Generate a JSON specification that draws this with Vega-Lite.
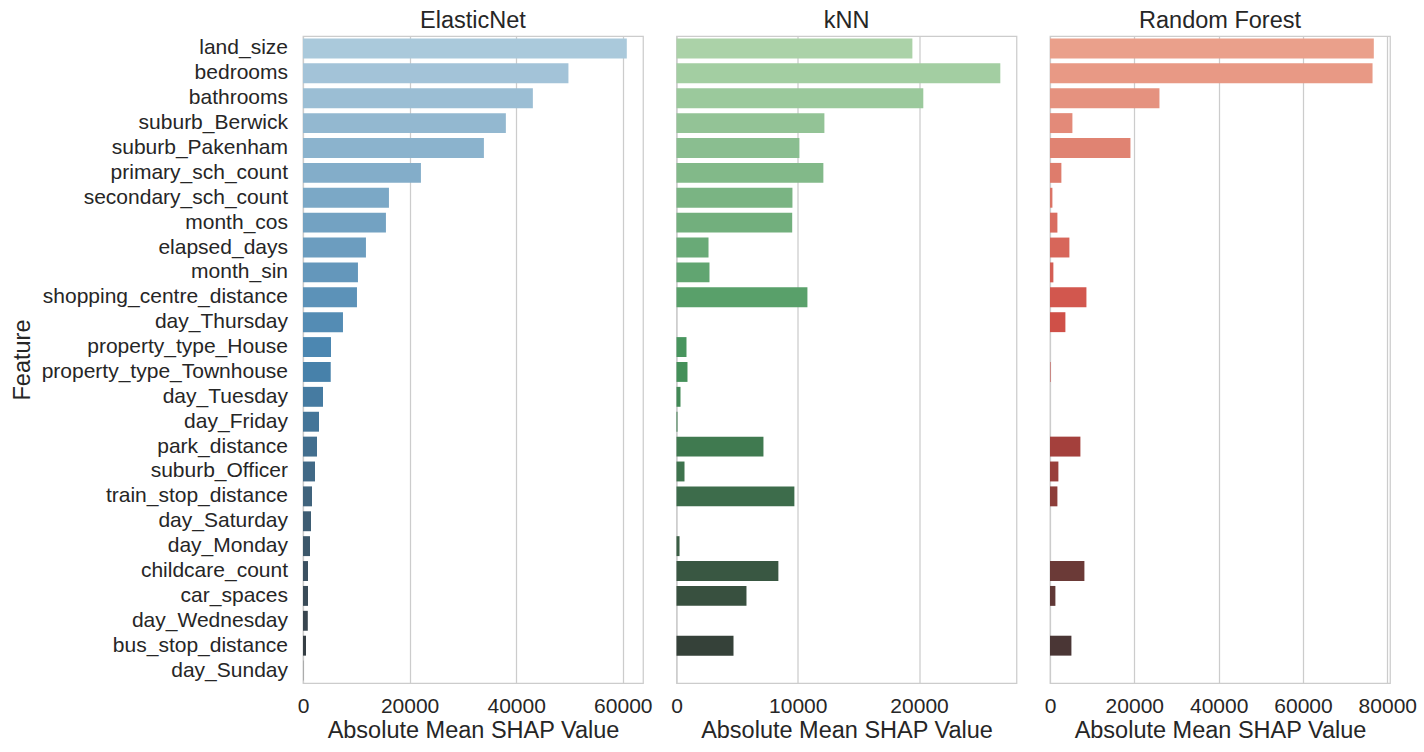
{
  "$schema": "https://vega.github.io/schema/vega-lite/v6.json",
  "padding": {"left": 9, "top": 7, "right": 5, "bottom": 5},
  "background": "white",
  "datasets": {
    "elasticnet": [
      {"feature": "land_size", "shap": 60750},
      {"feature": "bedrooms", "shap": 49800},
      {"feature": "bathrooms", "shap": 43125},
      {"feature": "suburb_Berwick", "shap": 38060},
      {"feature": "suburb_Pakenham", "shap": 33940},
      {"feature": "primary_sch_count", "shap": 22125},
      {"feature": "secondary_sch_count", "shap": 16125},
      {"feature": "month_cos", "shap": 15560},
      {"feature": "elapsed_days", "shap": 11810},
      {"feature": "month_sin", "shap": 10310},
      {"feature": "shopping_centre_distance", "shap": 10125},
      {"feature": "day_Thursday", "shap": 7500},
      {"feature": "property_type_House", "shap": 5250},
      {"feature": "property_type_Townhouse", "shap": 5200},
      {"feature": "day_Tuesday", "shap": 3750},
      {"feature": "day_Friday", "shap": 3000},
      {"feature": "park_distance", "shap": 2625},
      {"feature": "suburb_Officer", "shap": 2250},
      {"feature": "train_stop_distance", "shap": 1690},
      {"feature": "day_Saturday", "shap": 1500},
      {"feature": "day_Monday", "shap": 1310},
      {"feature": "childcare_count", "shap": 940},
      {"feature": "car_spaces", "shap": 940},
      {"feature": "day_Wednesday", "shap": 900},
      {"feature": "bus_stop_distance", "shap": 560},
      {"feature": "day_Sunday", "shap": 40}
    ],
    "knn": [
      {"feature": "land_size", "shap": 19450},
      {"feature": "bedrooms", "shap": 26700},
      {"feature": "bathrooms", "shap": 20350},
      {"feature": "suburb_Berwick", "shap": 12195},
      {"feature": "suburb_Pakenham", "shap": 10135},
      {"feature": "primary_sch_count", "shap": 12110},
      {"feature": "secondary_sch_count", "shap": 9560},
      {"feature": "month_cos", "shap": 9540},
      {"feature": "elapsed_days", "shap": 2640},
      {"feature": "month_sin", "shap": 2720},
      {"feature": "shopping_centre_distance", "shap": 10795},
      {"feature": "day_Thursday", "shap": 0},
      {"feature": "property_type_House", "shap": 824},
      {"feature": "property_type_Townhouse", "shap": 906},
      {"feature": "day_Tuesday", "shap": 330},
      {"feature": "day_Friday", "shap": 80},
      {"feature": "park_distance", "shap": 7170},
      {"feature": "suburb_Officer", "shap": 660},
      {"feature": "train_stop_distance", "shap": 9720},
      {"feature": "day_Saturday", "shap": 0},
      {"feature": "day_Monday", "shap": 250},
      {"feature": "childcare_count", "shap": 8400},
      {"feature": "car_spaces", "shap": 5770},
      {"feature": "day_Wednesday", "shap": 0},
      {"feature": "bus_stop_distance", "shap": 4700},
      {"feature": "day_Sunday", "shap": 0}
    ],
    "rf": [
      {"feature": "land_size", "shap": 76800},
      {"feature": "bedrooms", "shap": 76500},
      {"feature": "bathrooms", "shap": 25960},
      {"feature": "suburb_Berwick", "shap": 5315},
      {"feature": "suburb_Pakenham", "shap": 19080},
      {"feature": "primary_sch_count", "shap": 2700},
      {"feature": "secondary_sch_count", "shap": 570},
      {"feature": "month_cos", "shap": 1756},
      {"feature": "elapsed_days", "shap": 4600},
      {"feature": "month_sin", "shap": 800},
      {"feature": "shopping_centre_distance", "shap": 8640},
      {"feature": "day_Thursday", "shap": 3650},
      {"feature": "property_type_House", "shap": 0},
      {"feature": "property_type_Townhouse", "shap": 120},
      {"feature": "day_Tuesday", "shap": 0},
      {"feature": "day_Friday", "shap": 0},
      {"feature": "park_distance", "shap": 7210},
      {"feature": "suburb_Officer", "shap": 1990},
      {"feature": "train_stop_distance", "shap": 1756},
      {"feature": "day_Saturday", "shap": 0},
      {"feature": "day_Monday", "shap": 0},
      {"feature": "childcare_count", "shap": 8160},
      {"feature": "car_spaces", "shap": 1280},
      {"feature": "day_Wednesday", "shap": 0},
      {"feature": "bus_stop_distance", "shap": 5080},
      {"feature": "day_Sunday", "shap": 0}
    ]
  },
  "hconcat": [
    {
      "width": 340,
      "height": 647,
      "title": "ElasticNet",
      "data": {"name": "elasticnet"},
      "mark": {"type": "bar"},
      "encoding": {
        "y": {
          "field": "feature", "type": "nominal",
          "scale": {"domain": ["land_size","bedrooms","bathrooms","suburb_Berwick","suburb_Pakenham","primary_sch_count","secondary_sch_count","month_cos","elapsed_days","month_sin","shopping_centre_distance","day_Thursday","property_type_House","property_type_Townhouse","day_Tuesday","day_Friday","park_distance","suburb_Officer","train_stop_distance","day_Saturday","day_Monday","childcare_count","car_spaces","day_Wednesday","bus_stop_distance","day_Sunday"], "paddingInner": 0.2, "paddingOuter": 0.1},
          "axis": {"title": "Feature", "titleX": -269, "labelPadding": 15.5}
        },
        "x": {
          "field": "shap", "type": "quantitative",
          "scale": {"domain": [0, 63790], "nice": false, "zero": true},
          "axis": {"values": [0, 20000, 40000, 60000], "title": "Absolute Mean SHAP Value", "format": "d"}
        },
        "color": {
          "field": "feature", "type": "nominal", "legend": null,
          "scale": {
            "domain": ["land_size","bedrooms","bathrooms","suburb_Berwick","suburb_Pakenham","primary_sch_count","secondary_sch_count","month_cos","elapsed_days","month_sin","shopping_centre_distance","day_Thursday","property_type_House","property_type_Townhouse","day_Tuesday","day_Friday","park_distance","suburb_Officer","train_stop_distance","day_Saturday","day_Monday","childcare_count","car_spaces","day_Wednesday","bus_stop_distance","day_Sunday"],
            "range": ["#aac9db","#a3c3d8","#9bbed4","#93b8d0","#8bb3cd","#83adc9","#7ba8c6","#73a2c2","#6c9dbf","#6497bb","#5c92b8","#548cb4","#4c87b1","#4781aa","#467ba1","#447598","#436f8f","#416986","#40637c","#3e5d73","#3c576a","#3b5161","#394b58","#38454f","#363f45","#35393c"]
          }
        }
      }
    },
    {
      "width": 340,
      "height": 647,
      "title": "kNN",
      "data": {"name": "knn"},
      "mark": {"type": "bar"},
      "encoding": {
        "y": {
          "field": "feature", "type": "nominal",
          "scale": {"domain": ["land_size","bedrooms","bathrooms","suburb_Berwick","suburb_Pakenham","primary_sch_count","secondary_sch_count","month_cos","elapsed_days","month_sin","shopping_centre_distance","day_Thursday","property_type_House","property_type_Townhouse","day_Tuesday","day_Friday","park_distance","suburb_Officer","train_stop_distance","day_Saturday","day_Monday","childcare_count","car_spaces","day_Wednesday","bus_stop_distance","day_Sunday"], "paddingInner": 0.2, "paddingOuter": 0.1},
          "axis": null
        },
        "x": {
          "field": "shap", "type": "quantitative",
          "scale": {"domain": [0, 28035], "nice": false, "zero": true},
          "axis": {"values": [0, 10000, 20000], "title": "Absolute Mean SHAP Value", "format": "d"}
        },
        "color": {
          "field": "feature", "type": "nominal", "legend": null,
          "scale": {
            "domain": ["land_size","bedrooms","bathrooms","suburb_Berwick","suburb_Pakenham","primary_sch_count","secondary_sch_count","month_cos","elapsed_days","month_sin","shopping_centre_distance","day_Thursday","property_type_House","property_type_Townhouse","day_Tuesday","day_Friday","park_distance","suburb_Officer","train_stop_distance","day_Saturday","day_Monday","childcare_count","car_spaces","day_Wednesday","bus_stop_distance","day_Sunday"],
            "range": ["#abd2a8","#a3cea2","#9bc99c","#93c396","#8abe90","#82b989","#7ab483","#72af7d","#69aa77","#61a571","#59a06a","#519b64","#48955e","#449059","#428956","#418153","#407a50","#3e734d","#3d6c4b","#3c6548","#3b5e45","#395742","#38503f","#37483c","#354139","#343a36"]
          }
        }
      }
    },
    {
      "width": 340,
      "height": 647,
      "title": "Random Forest",
      "data": {"name": "rf"},
      "mark": {"type": "bar"},
      "encoding": {
        "y": {
          "field": "feature", "type": "nominal",
          "scale": {"domain": ["land_size","bedrooms","bathrooms","suburb_Berwick","suburb_Pakenham","primary_sch_count","secondary_sch_count","month_cos","elapsed_days","month_sin","shopping_centre_distance","day_Thursday","property_type_House","property_type_Townhouse","day_Tuesday","day_Friday","park_distance","suburb_Officer","train_stop_distance","day_Saturday","day_Monday","childcare_count","car_spaces","day_Wednesday","bus_stop_distance","day_Sunday"], "paddingInner": 0.2, "paddingOuter": 0.1},
          "axis": null
        },
        "x": {
          "field": "shap", "type": "quantitative",
          "scale": {"domain": [0, 80640], "nice": false, "zero": true},
          "axis": {"values": [0, 20000, 40000, 60000, 80000], "title": "Absolute Mean SHAP Value", "format": "d"}
        },
        "color": {
          "field": "feature", "type": "nominal", "legend": null,
          "scale": {
            "domain": ["land_size","bedrooms","bathrooms","suburb_Berwick","suburb_Pakenham","primary_sch_count","secondary_sch_count","month_cos","elapsed_days","month_sin","shopping_centre_distance","day_Thursday","property_type_House","property_type_Townhouse","day_Tuesday","day_Friday","park_distance","suburb_Officer","train_stop_distance","day_Saturday","day_Monday","childcare_count","car_spaces","day_Wednesday","bus_stop_distance","day_Sunday"],
            "range": ["#eaa08b","#e89985","#e5927f","#e38a79","#e08372","#de7c6c","#db7466","#d96d60","#d7665a","#d45e54","#d2574e","#cf5048","#cd4842","#c6443e","#bb433d","#af413c","#a4403c","#993f3b","#8d3e3a","#823c39","#773b38","#6b3a37","#603836","#553736","#4a3635","#3e3434"]
          }
        }
      }
    }
  ],
  "spacing": 33.5,
  "bounds": "flush",
  "resolve": {"scale": {"x": "independent", "y": "independent", "color": "independent"}},
  "config": {
    "font": "Liberation Sans",
    "view": {"stroke": "#cccccc", "strokeWidth": 1.25},
    "axis": {
      "domain": false,
      "ticks": false,
      "labelFont": "Liberation Sans",
      "labelFontSize": 21,
      "labelColor": "#262626",
      "labelLimit": 400,
      "titleFont": "Liberation Sans",
      "titleFontSize": 23.5,
      "titleFontWeight": "normal",
      "titleColor": "#262626",
      "labelPadding": 14,
      "gridColor": "#cccccc",
      "gridWidth": 1.25
    },
    "axisX": {"grid": true, "titlePadding": 2, "labelPadding": 12, "labelOverlap": false, "labelFlush": false},
    "axisY": {"grid": false, "titlePadding": 5},
    "title": {"font": "Liberation Sans", "fontSize": 23.5, "fontWeight": "normal", "color": "#262626", "offset": 4}
  }
}
